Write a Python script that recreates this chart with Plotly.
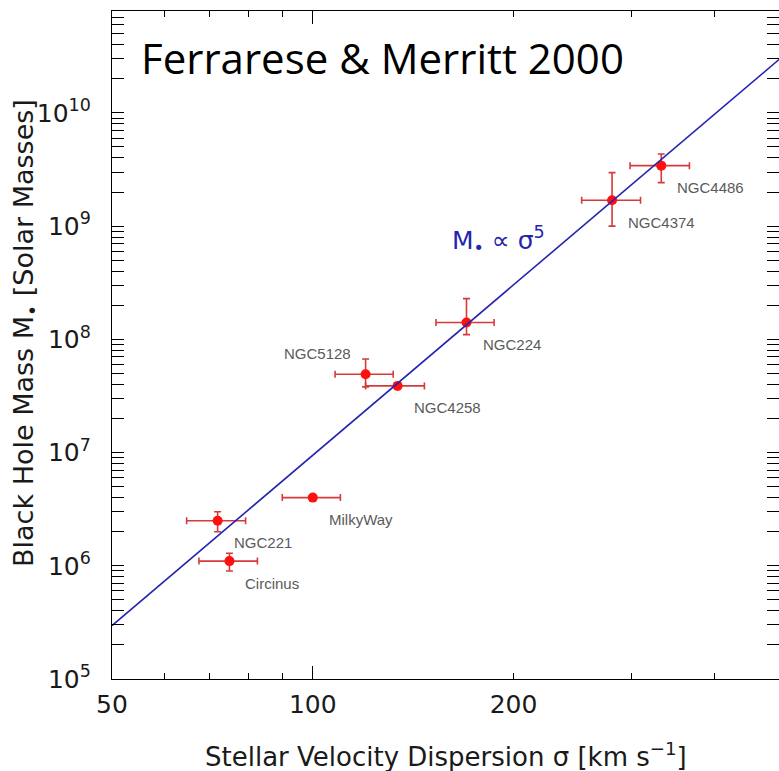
import numpy as np
import plotly.graph_objects as go

# ---------------- data ----------------
names = ["NGC4486", "NGC4374", "NGC224", "NGC4258", "NGC5128", "MilkyWay", "NGC221", "Circinus"]
sigma = [333, 281, 170, 134, 120, 100, 72, 75]            # km/s
sigma_low = [299, 253, 153, 120, 108, 90, 64.7, 67.5]
sigma_high = [367, 310, 187, 147, 132, 110, 79.3, 82.6]
mass = [3.42e9, 1.69e9, 1.41e8, 3.88e7, 4.92e7, 4.0e6, 2.5e6, 1.1e6]   # solar masses
mass_low = [2.42e9, 1.0e9, 1.10e8, 3.88e7, 3.8e7, 4.0e6, 2.0e6, 0.9e6]
mass_high = [4.34e9, 2.97e9, 2.29e8, 3.88e7, 6.71e7, 4.0e6, 3.0e6, 1.29e6]

fit_sigma = [50, 500]
fit_mass = [2.96e5, 2.96e10]        # M ∝ sigma^5

x_label_vals = [50, 100, 200]
x_label_text = ["50", "100", "200"]
y_label_vals = [1e5, 1e6, 1e7, 1e8, 1e9, 1e10]
y_label_text = ["10<sup>5</sup>", "10<sup>6</sup>", "10<sup>7</sup>",
                "10<sup>8</sup>", "10<sup>9</sup>", "10<sup>10</sup>"]

# ---------------- styling ----------------
AX_FONT = "DejaVu Sans, Verdana, sans-serif"
LBL_FONT = "Liberation Sans, Arial, sans-serif"
TXT = "#1a1a1a"
RED = "#ff1010"
ERR = "#d63a3a"
BLUE = "#2424b0"
LABEL_GREY = "#5a5a5a"

err_x_plus = [h - s for h, s in zip(sigma_high, sigma)]
err_x_minus = [s - l for s, l in zip(sigma, sigma_low)]
err_y_plus = [h - m for h, m in zip(mass_high, mass)]
err_y_minus = [m - l for m, l in zip(mass, mass_low)]

fig = go.Figure()

fig.add_trace(go.Scatter(
    x=sigma, y=mass, mode="markers",
    marker=dict(color=RED, size=10, line=dict(width=0)),
    error_x=dict(type="data", symmetric=False, array=err_x_plus, arrayminus=err_x_minus,
                 color=ERR, thickness=1.6, width=3.5),
    error_y=dict(type="data", symmetric=False, array=err_y_plus, arrayminus=err_y_minus,
                 color=ERR, thickness=1.6, width=3.5),
    showlegend=False, hoverinfo="text", text=names,
))

# fit line on overlay axis (drawn on top of points)
fig.add_trace(go.Scatter(
    x=fit_sigma, y=fit_mass, mode="lines", xaxis="x2", yaxis="y",
    line=dict(color=BLUE, width=1.6), showlegend=False, hoverinfo="skip",
))

x_minor = [60, 70, 80, 90, 200, 300, 400]
y_minor = [k * 10 ** e for e in range(5, 11) for k in range(2, 10) if k * 10 ** e < 8.1e10]

xr = [np.log10(50), np.log10(500)]
yr = [5, 10.9]

fig.update_layout(
    width=779, height=771,
    margin=dict(l=112, r=0, t=11, b=92),
    paper_bgcolor="white", plot_bgcolor="white",
    font=dict(family=AX_FONT, color=TXT),
    xaxis=dict(
        type="log", range=xr, showgrid=False, zeroline=False,
        showline=True, linecolor="black", linewidth=1.3, mirror="allticks",
        ticks="inside", tickvals=[100], ticklen=13, tickcolor="black", tickwidth=1.3,
        showticklabels=False,
        minor=dict(tickvals=x_minor, ticks="inside", ticklen=6, tickcolor="black", tickwidth=1.3, showgrid=False),
    ),
    xaxis2=dict(
        type="log", range=xr, overlaying="x", anchor="y", side="bottom",
        showgrid=False, zeroline=False, showline=False, ticks="",
        tickvals=x_label_vals, ticktext=x_label_text,
        tickfont=dict(size=25, family=AX_FONT, color=TXT),
        ticklabelstandoff=8,
    ),
    yaxis=dict(
        type="log", range=yr, showgrid=False, zeroline=False,
        showline=True, linecolor="black", linewidth=1.3, mirror="allticks",
        ticks="inside", tickvals=y_label_vals, ticktext=y_label_text, ticklen=12,
        tickcolor="black", tickwidth=1.3,
        tickfont=dict(size=25, family=AX_FONT, color=TXT),
        ticklabelstandoff=15,
        minor=dict(tickvals=y_minor, ticks="inside", ticklen=7, tickcolor="black", tickwidth=1.3, showgrid=False),
    ),
)

# axis titles
fig.add_annotation(x=0.5, y=(679 - 755) / 668, xref="paper", yref="paper",
                   text="Stellar Velocity Dispersion σ [km s<sup>−1</sup>]", showarrow=False,
                   xanchor="center", yanchor="middle",
                   font=dict(size=26, family=AX_FONT, color=TXT))
fig.add_annotation(x=(25 - 112) / 667, y=(679 - 333) / 668, xref="paper", yref="paper",
                   text="Black Hole Mass M<sub>•</sub> [Solar Masses]", showarrow=False,
                   textangle=-90, xanchor="center", yanchor="middle",
                   font=dict(size=27, family=AX_FONT, color=TXT))

# galaxy labels (offset in pixels from each point)
for n, s, m in zip(names, sigma, mass):
    if n == "NGC5128":
        xa, xs, ys = "right", -13, 21
    else:
        xa, xs, ys = "left", 14, -22
    fig.add_annotation(x=np.log10(s), y=np.log10(m), xref="x", yref="y",
                       text=n, showarrow=False, xanchor=xa, yanchor="middle",
                       xshift=xs, yshift=ys,
                       font=dict(size=15, family=LBL_FONT, color=LABEL_GREY))

# relation label
fig.add_annotation(x=np.log10(160.6), y=np.log10(7.55e8), xref="x", yref="y",
                   text="M<sub>•</sub> ∝ σ<sup>5</sup>", showarrow=False,
                   xanchor="left", yanchor="middle",
                   font=dict(size=25, family=AX_FONT, color=BLUE))

# title
fig.add_annotation(x=(139 - 112) / 667, y=(679 - 57) / 668, xref="paper", yref="paper",
                   text="Ferrarese &amp; Merritt 2000", showarrow=False,
                   xanchor="left", yanchor="middle",
                   font=dict(size=42, family="Open Sans, sans-serif", color="black"))

fig.write_html("out.html",
               config={"displayModeBar": False},
               post_script="document.body.style.margin='0';document.body.style.overflow='hidden';")
